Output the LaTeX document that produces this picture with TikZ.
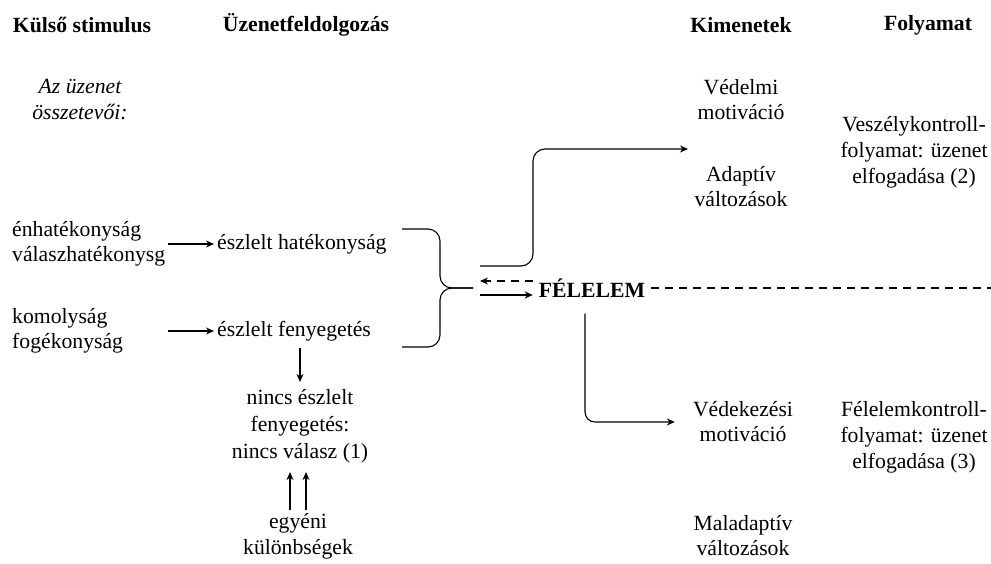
\documentclass[tikz,border=0pt]{standalone}
\usepackage{fontspec}
\setmainfont{Liberation Serif}
\usetikzlibrary{arrows.meta,positioning,calc}

\begin{document}
\begin{tikzpicture}[x=1pt, y=-1pt,
  txt/.style={align=center, inner sep=3pt, font=\fontsize{21.7}{25}\selectfont},
  hdr/.style={txt, font=\fontsize{21.7}{25}\selectfont\bfseries},
  lnk/.style={-{Stealth[length=8pt,width=7pt]}, line width=1.1pt},
  brc/.style={line width=1.1pt, rounded corners=12pt},
  dsh/.style={line width=1.1pt, dash pattern=on 8pt off 6pt},
]
\useasboundingbox (0,0) rectangle (991,563);
% column heads
\node[hdr] (hStim) at (82,25) {Külső stimulus};
\node[hdr] (hProc) at (306,25) {Üzenetfeldolgozás};
\node[hdr] (hOut) at (741,25) {Kimenetek};
\node[hdr] (hFlow) at (928,25) {Folyamat};
\node[txt, font=\fontsize{21.7}{26}\selectfont\itshape] (parts) at (80,99) {Az üzenet\\összetevői:};

% stimulus -> processing
\node[txt, align=left, anchor=west] (src1) at (9,244) {énhatékonyság\\válaszhatékonysg};
\node[txt, align=left, anchor=west] (src2) at (9,331) {komolyság\\fogékonyság};
\node[txt, anchor=west] (pEff) at (214,244) {észlelt hatékonyság};
\node[txt, anchor=west] (pThr) at (214,331) {észlelt fenyegetés};
\node[txt, font=\fontsize{21.7}{27}\selectfont] (noResp) at (300,426) {nincs észlelt\\fenyegetés:\\nincs válasz (1)};
\node[txt, font=\fontsize{21.7}{26}\selectfont] (indiv) at (298,536) {egyéni\\különbségek};
\draw[lnk] (src1) -- (pEff);
\draw[lnk] (src2.east -| src1.east) -- (pThr);
\draw[lnk, shorten <=4pt, shorten >=4pt] (pThr.south -| noResp.north) -- (noResp.north);
\draw[lnk, shorten >=6pt] ([xshift=-8pt]indiv.north) -- ([xshift=-8pt]indiv.north |- noResp.south);
\draw[lnk, shorten >=6pt] ([xshift=8pt]indiv.north) -- ([xshift=8pt]indiv.north |- noResp.south);

% brace and fear
\coordinate (brTop) at (402,229);
\coordinate (brBot) at (402,347);
\coordinate (brTip) at (473,288);
\draw[brc] (brTop) -| ([xshift=-33pt]brTip) -- (brTip);
\draw[brc] (brBot) -| ([xshift=-33pt]brTip) -- (brTip);
\node[hdr, inner sep=6pt] (fear) at (592,288) {FÉLELEM};
\coordinate (rEdge) at (991,288);
\draw[lnk] ([xshift=7pt,yshift=-7pt]brTip) -- ([yshift=-7pt]fear.west);
\draw[lnk, dsh] ([yshift=7pt]fear.west) -- ([xshift=7pt,yshift=7pt]brTip);
\draw[dsh] (fear.east) -- (rEdge);

% outcomes
\node[txt] (protM) at (741,100) {Védelmi\\motiváció};
\node[txt] (adapt) at (741,187) {Adaptív\\változások};
\node[txt, font=\fontsize{21.7}{26}\selectfont] (dangC) at (914,152) {Veszélykontroll-\\folyamat: üzenet\\elfogadása (2)};
\node[txt] (defM) at (743,422) {Védekezési\\motiváció};
\node[txt] (maladapt) at (743,536) {Maladaptív\\változások};
\node[txt, font=\fontsize{21.7}{26}\selectfont] (fearC) at (914,437) {Félelemkontroll-\\folyamat: üzenet\\elfogadása (3)};
\coordinate (upTurn) at (533,149);
\coordinate (prot) at (688,149);
\draw[lnk, rounded corners=12pt] ([xshift=7pt,yshift=22pt]brTip) -| (upTurn) -- (prot);
\draw[lnk, rounded corners=10pt] ([xshift=-7pt,yshift=-10pt]fear.south) |- ([xshift=-15pt]defM.west);
\end{tikzpicture}
\end{document}
